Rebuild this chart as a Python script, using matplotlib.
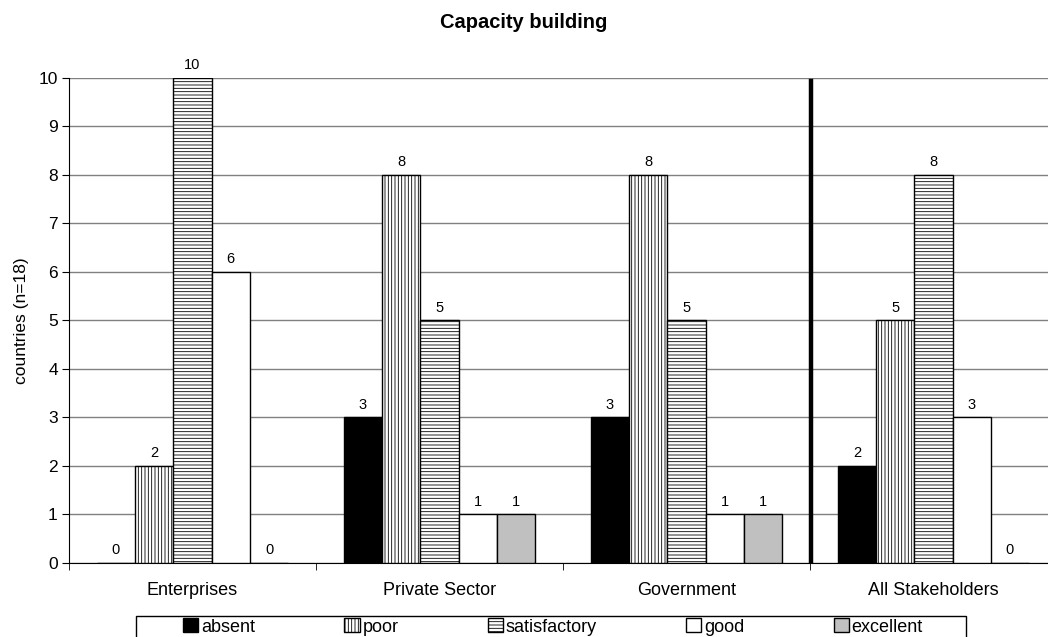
import matplotlib.pyplot as plt
from matplotlib.patches import Rectangle
import numpy as np

plt.rcParams['font.family'] = ['Liberation Sans', 'DejaVu Sans']
plt.rcParams['hatch.linewidth'] = 0.6

# data
categories = ['Enterprises', 'Private Sector', 'Government', 'All Stakeholders']
levels = ['absent', 'poor', 'satisfactory', 'good', 'excellent']
absent = [0, 3, 3, 2]
poor = [2, 8, 8, 5]
satisfactory = [10, 5, 5, 8]
good = [6, 1, 1, 3]
excellent = [0, 1, 1, 0]
series = [absent, poor, satisfactory, good, excellent]

colors = ['black', 'white', 'white', 'white', '#c0c0c0']
hatches = [None, '|||||', '-----', None, None]

fig = plt.figure(figsize=(10.48, 6.37), dpi=100)
ax = fig.add_axes([0.0658, 0.1162, 0.9427, 0.7614])

x = np.arange(len(categories))
w = 0.155
for i, (vals, lab) in enumerate(zip(series, levels)):
    pos = x + (i - 2) * w
    bars = ax.bar(pos, vals, w, color=colors[i], edgecolor='black', linewidth=1,
                  hatch=hatches[i], label=lab, zorder=3)
    for b, v in zip(bars, vals):
        ax.annotate(str(v), (b.get_x() + b.get_width() / 2, v), xytext=(0, 4),
                    textcoords='offset points', ha='center', va='bottom', fontsize=10.5)

# separator between groups and the overall result
ax.plot([2.505, 2.505], [0, 9.93], color='black', linewidth=3.2, zorder=4)

ax.set_xlim(-0.5, 3.5)
ax.set_ylim(0, 10)
ax.set_yticks(range(0, 11))
ax.yaxis.grid(True, color='#808080', linewidth=1, zorder=0)
ax.set_axisbelow(True)
ax.tick_params(axis='y', labelsize=12.5, length=5, pad=3, direction='out')

ax.set_xticks(x)
ax.set_xticklabels(categories, fontsize=13)
ax.set_xticks(np.arange(-0.5, 4, 1), minor=True)
ax.tick_params(axis='x', which='major', length=0, pad=14)
ax.tick_params(axis='x', which='minor', length=5)

for s in ['top', 'right']:
    ax.spines[s].set_visible(False)

ax.set_ylabel('countries (n=18)', fontsize=12.5, labelpad=7)
fig.text(0.5, 0.965, 'Capacity building', ha='center', va='center',
         fontsize=14.5, fontweight='bold')

# legend box at the bottom, running off the lower edge as in the original
fig.add_artist(Rectangle((136 / 1048, -0.03), 830 / 1048, 0.063, transform=fig.transFigure,
                         fill=False, edgecolor='black', linewidth=1))
fig.legend(loc='center', bbox_to_anchor=(183 / 1048, 0.006, 740 / 1048, 0.02),
           mode='expand', ncol=5, fontsize=13, frameon=False,
           handlelength=0.85, handleheight=0.85, handletextpad=0.15,
           borderaxespad=0, borderpad=0)

plt.savefig('out.png', dpi=100)
